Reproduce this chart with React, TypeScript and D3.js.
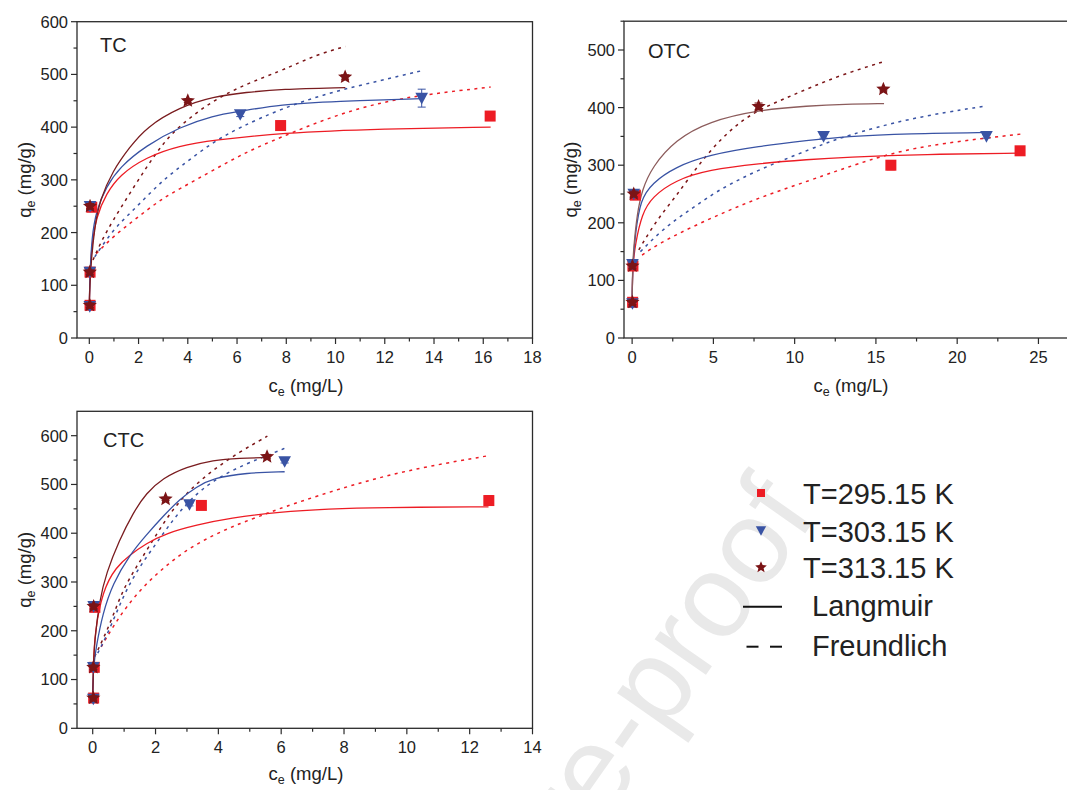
import React from 'react'
import * as d3 from 'd3'

type Pt = [number, number]
type Obs = [number, number, number] // c, q, error

const RED = '#ed1c24'
const BLUE = '#3953a4'
const DARK = '#7b1416'

// ---------- TC ----------
const tcObs295: Obs[] = [[0.03, 62, 4], [0.03, 125, 5], [0.1, 248, 6], [7.77, 403, 8], [16.28, 421, 5]]
const tcObs303: Obs[] = [[0.02, 60, 6], [0.02, 125, 5], [0.03, 250, 8], [6.13, 424, 4], [13.5, 455, 17]]
const tcObs313: Obs[] = [[0.02, 62, 4], [0.02, 125, 4], [0.03, 250, 5], [4.0, 450, 3], [10.39, 495, 4]]
const tcLang295: Pt[] = [[0, 62], [0.03, 125], [0.1, 175], [0.28, 230], [0.69, 274], [1.23, 309], [2.3, 343], [3.67, 365], [5.02, 375], [7.74, 389], [12, 397], [16.3, 400]]
const tcLang303: Pt[] = [[0, 62], [0.03, 125], [0.1, 190], [0.28, 242], [0.69, 287], [1.23, 324], [2.3, 365], [3.67, 400], [5.02, 422], [6.14, 430], [7.74, 443], [10, 449], [13.5, 454]]
const tcLang313: Pt[] = [[0, 62], [0.02, 100], [0.08, 148], [0.22, 211], [0.42, 261], [0.96, 318], [1.64, 362], [2.32, 400], [3.67, 438], [5.03, 458], [6.38, 466], [7.74, 472], [10.4, 475]]
const tcFreu295: Pt[] = [[0.28, 160], [0.96, 192], [1.64, 217], [2.32, 242], [2.99, 265], [3.67, 283], [5.02, 318], [6.38, 353], [7.74, 380], [9.77, 419], [11.8, 447], [13.8, 463], [16.3, 476]]
const tcFreu303: Pt[] = [[0.22, 154], [0.96, 205], [1.64, 236], [2.32, 268], [2.99, 299], [3.67, 324], [5.02, 372], [6.14, 400], [7.74, 434], [9.77, 466], [11.8, 488], [13.5, 507]]
const tcFreu313: Pt[] = [[0.15, 148], [0.5, 185], [0.96, 223], [1.64, 274], [2.32, 324], [2.99, 369], [3.67, 403], [5.02, 451], [6.38, 482], [7.74, 506], [8.55, 523], [9.36, 539], [10.4, 553]]

// ---------- OTC ----------
const otcObs295: Obs[] = [[0.03, 62, 4], [0.05, 125, 5], [0.2, 248, 5], [15.92, 300, 8], [23.87, 325, 3]]
const otcObs303: Obs[] = [[0.02, 60, 6], [0.02, 128, 5], [0.1, 250, 6], [11.78, 350, 3], [21.8, 350, 3]]
const otcObs313: Obs[] = [[0.02, 62, 4], [0.02, 125, 4], [0.1, 250, 5], [7.78, 402, 6], [15.46, 432, 3]]
const otcLang295: Pt[] = [[0, 62], [0.03, 125], [0.2, 164], [0.61, 216], [1.23, 245], [2.66, 274], [4.71, 292], [7.78, 303], [10.85, 310], [13.1, 314], [18, 319], [23.9, 321]]
const otcLang303: Pt[] = [[0, 62], [0.03, 125], [0.2, 182], [0.51, 240], [1.23, 269], [2.66, 297], [4.71, 318], [7.78, 333], [10.85, 343], [13.1, 350], [17, 355], [22.1, 357]]
const otcLang313: Pt[] = [[0, 62], [0.03, 125], [0.1, 158], [0.31, 216], [0.61, 257], [1.23, 297], [2.66, 344], [4.71, 376], [7.78, 396], [10.85, 403], [13.1, 406], [15.5, 407]]
const otcFreu295: Pt[] = [[0.61, 144], [1.64, 164], [3.69, 193], [5.73, 219], [7.78, 243], [9.83, 263], [11.88, 283], [13.1, 295], [15.9, 321], [18.95, 338], [23.9, 354]]
const otcFreu303: Pt[] = [[0.51, 150], [1.64, 182], [2.66, 205], [3.69, 225], [4.71, 245], [5.73, 263], [7.78, 292], [9.83, 315], [11.88, 338], [13.1, 350], [16.9, 381], [21.8, 403]]
const otcFreu313: Pt[] = [[0.41, 153], [1.12, 187], [1.84, 216], [2.66, 245], [3.48, 277], [4.5, 315], [5.53, 347], [6.55, 373], [7.78, 396], [9.42, 416], [11.06, 436], [12.9, 457], [15.5, 480]]

// ---------- CTC ----------
const ctcObs295: Obs[] = [[0.03, 62, 4], [0.05, 125, 4], [0.07, 248, 5], [3.46, 457, 3], [12.61, 467, 10]]
const ctcObs303: Obs[] = [[0.02, 60, 6], [0.02, 125, 5], [0.03, 250, 6], [3.08, 459, 3], [6.11, 547, 3]]
const ctcObs313: Obs[] = [[0.02, 62, 4], [0.02, 125, 4], [0.03, 250, 5], [2.32, 470, 3], [5.55, 557, 3]]
const ctcLang295: Pt[] = [[0, 62], [0.02, 125], [0.06, 195], [0.32, 284], [0.75, 331], [1.17, 355], [1.7, 379], [2.34, 400], [3.3, 417], [4.36, 431], [5.96, 444], [7.5, 450], [9.14, 453], [12.6, 454]]
const ctcLang303: Pt[] = [[0, 62], [0.02, 125], [0.11, 167], [0.32, 236], [0.64, 297], [1.17, 355], [1.7, 396], [2.23, 434], [2.77, 470], [3.3, 495], [3.83, 513], [4.89, 524], [6.11, 526]]
const ctcLang313: Pt[] = [[0, 62], [0.02, 125], [0.06, 181], [0.22, 263], [0.43, 318], [0.85, 386], [1.28, 441], [1.7, 482], [2.23, 513], [2.98, 536], [3.83, 550], [4.68, 554], [5.55, 555]]
const ctcFreu295: Pt[] = [[0.27, 167], [0.64, 208], [1.07, 249], [1.6, 290], [2.23, 328], [2.98, 366], [3.83, 396], [4.68, 420], [5.53, 440], [5.96, 451], [7.55, 485], [9.14, 515], [10.73, 538], [12.6, 559]]
const ctcFreu303: Pt[] = [[0.16, 154], [0.43, 188], [0.75, 236], [1.07, 284], [1.49, 331], [2.02, 379], [2.55, 427], [3.08, 468], [3.83, 509], [4.89, 543], [5.74, 564], [6.14, 575]]
const ctcFreu313: Pt[] = [[0.06, 147], [0.32, 181], [0.64, 229], [0.96, 284], [1.39, 331], [1.92, 386], [2.45, 441], [3.08, 489], [3.83, 530], [4.68, 567], [5.56, 599]]

// ---------- ticks ----------
const tcXTicks = [0, 2, 4, 6, 8, 10, 12, 14, 16, 18]
const tcXMinor = [1, 3, 5, 7, 9, 11, 13, 15, 17]
const tcYTicks = [0, 100, 200, 300, 400, 500, 600]
const tcYMinor = [50, 150, 250, 350, 450, 550]
const otcXTicks = [0, 5, 10, 15, 20, 25]
const otcXMinor = [2.5, 7.5, 12.5, 17.5, 22.5]
const otcYTicks = [0, 100, 200, 300, 400, 500]
const otcYMinor = [50, 150, 250, 350, 450, 550]
const ctcXTicks = [0, 2, 4, 6, 8, 10, 12, 14]
const ctcXMinor = [1, 3, 5, 7, 9, 11, 13]
const ctcYTicks = [0, 100, 200, 300, 400, 500, 600]
const ctcYMinor = [50, 150, 250, 350, 450, 550]

const legendLabels = ['T=295.15 K', 'T=303.15 K', 'T=313.15 K', 'Langmuir', 'Freundlich']

const FONT = "'Liberation Sans', Arial, Helvetica, sans-serif"

const starPath = (R: number) => {
  const r = R * 0.45
  let p = ''
  for (let i = 0; i < 10; i++) {
    const a = -Math.PI / 2 + (i * Math.PI) / 5
    const rad = i % 2 === 0 ? R : r
    p += (i === 0 ? 'M' : 'L') + (rad * Math.cos(a)).toFixed(2) + ',' + (rad * Math.sin(a)).toFixed(2)
  }
  return p + 'Z'
}
const triPath = (w: number) => `M${-w / 2},${-w * 0.42}L${w / 2},${-w * 0.42}L0,${w * 0.5}Z`

function Marker({ kind, x, y, s }: { kind: number; x: number; y: number; s: number }) {
  if (kind === 0) return <rect x={x - s / 2} y={y - s / 2} width={s} height={s} fill={RED} />
  if (kind === 1) return <path d={triPath(s * 1.15)} transform={`translate(${x},${y})`} fill={BLUE} />
  return <path d={starPath(s * 0.68)} transform={`translate(${x},${y})`} fill={DARK} />
}

interface PanelDef {
  name: string
  left: number; right: number; top: number; bottom: number
  xDom: [number, number]; yDom: [number, number]
  xTicks: number[]; xMinor: number[]; yTicks: number[]; yMinor: number[]
  nameX: number; nameY: number
  yTitleX: number; xTitleX: number; xTitleY: number
  obs: Obs[][]; lang: Pt[][]; freu: Pt[][]; langColors: string[]
}

const panels: PanelDef[] = [
  {
    name: 'TC', left: 77, right: 532.5, top: 21.7, bottom: 338,
    xDom: [-0.5, 18], yDom: [0, 600],
    xTicks: tcXTicks, xMinor: tcXMinor, yTicks: tcYTicks, yMinor: tcYMinor,
    nameX: 100, nameY: 52, yTitleX: 31, xTitleX: 306, xTitleY: 392,
    obs: [tcObs295, tcObs303, tcObs313], lang: [tcLang295, tcLang303, tcLang313],
    freu: [tcFreu295, tcFreu303, tcFreu313], langColors: [RED, BLUE, '#7a1d20'],
  },
  {
    name: 'OTC', left: 624, right: 1067.7, top: 21.2, bottom: 338,
    xDom: [-0.5, 26.8], yDom: [0, 550],
    xTicks: otcXTicks, xMinor: otcXMinor, yTicks: otcYTicks, yMinor: otcYMinor,
    nameX: 648, nameY: 58, yTitleX: 577, xTitleX: 851, xTitleY: 392,
    obs: [otcObs295, otcObs303, otcObs313], lang: [otcLang295, otcLang303, otcLang313],
    freu: [otcFreu295, otcFreu303, otcFreu313], langColors: [RED, BLUE, '#8c5c5c'],
  },
  {
    name: 'CTC', left: 77, right: 532.5, top: 411.3, bottom: 728.3,
    xDom: [-0.5, 14], yDom: [0, 650],
    xTicks: ctcXTicks, xMinor: ctcXMinor, yTicks: ctcYTicks, yMinor: ctcYMinor,
    nameX: 103, nameY: 447, yTitleX: 31, xTitleX: 306, xTitleY: 780,
    obs: [ctcObs295, ctcObs303, ctcObs313], lang: [ctcLang295, ctcLang303, ctcLang313],
    freu: [ctcFreu295, ctcFreu303, ctcFreu313], langColors: [RED, BLUE, '#7a1d20'],
  },
]

const seriesColors = [RED, BLUE, DARK]

function Panel({ p, id }: { p: PanelDef; id: number }) {
  const x = d3.scaleLinear().domain(p.xDom).range([p.left, p.right])
  const y = d3.scaleLinear().domain(p.yDom).range([p.bottom, p.top])
  const line = d3.line<Pt>().x(d => x(d[0])).y(d => y(d[1])).curve(d3.curveBasis)
  const axis = '#2b2b2b'
  const midY = (p.top + p.bottom) / 2
  return (
    <g>
      <defs>
        <clipPath id={'clip' + id}>
          <rect x={p.left} y={p.top} width={p.right - p.left} height={p.bottom - p.top} />
        </clipPath>
      </defs>
      {/* frame */}
      <rect x={p.left} y={p.top} width={p.right - p.left} height={p.bottom - p.top} fill="none" stroke={axis} strokeWidth={1.3} />
      {p.xTicks.map(t => (
        <g key={'xt' + t}>
          <line x1={x(t)} x2={x(t)} y1={p.bottom} y2={p.bottom + 6} stroke={axis} strokeWidth={1.2} />
          <text x={x(t)} y={p.bottom + 25} textAnchor="middle" fontSize={16.5} fill="#222">{t}</text>
        </g>
      ))}
      {p.xMinor.map(t => (
        <line key={'xm' + t} x1={x(t)} x2={x(t)} y1={p.bottom} y2={p.bottom + 3.5} stroke={axis} strokeWidth={1.2} />
      ))}
      {p.yTicks.map(t => (
        <g key={'yt' + t}>
          <line x1={p.left - 6} x2={p.left} y1={y(t)} y2={y(t)} stroke={axis} strokeWidth={1.2} />
          <text x={p.left - 9} y={y(t)} dy="0.36em" textAnchor="end" fontSize={16.5} fill="#222">{t}</text>
        </g>
      ))}
      {p.yMinor.map(t => (
        <line key={'ym' + t} x1={p.left - 3.5} x2={p.left} y1={y(t)} y2={y(t)} stroke={axis} strokeWidth={1.2} />
      ))}
      {/* axis titles */}
      <text x={p.xTitleX} y={p.xTitleY} textAnchor="middle" fontSize={18.5} fill="#222">
        c<tspan dy={4} fontSize={12.5}>e</tspan><tspan dy={-4}> (mg/L)</tspan>
      </text>
      <text transform={`translate(${p.yTitleX},${midY}) rotate(-90)`} textAnchor="middle" fontSize={18.5} fill="#222">
        q<tspan dy={4} fontSize={12.5}>e</tspan><tspan dy={-4}> (mg/g)</tspan>
      </text>
      <text x={p.nameX} y={p.nameY} fontSize={20} fill="#222">{p.name}</text>
      <g clipPath={`url(#clip${id})`}>
        {p.freu.map((s, i) => (
          <path key={'f' + i} d={line(s) || ''} fill="none" stroke={seriesColors[i]} strokeWidth={1.5} strokeDasharray="3,4.5" />
        ))}
        {p.lang.map((s, i) => (
          <path key={'l' + i} d={line(s) || ''} fill="none" stroke={p.langColors[i]} strokeWidth={1.3} />
        ))}
        {p.obs.map((s, i) => (
          <g key={'o' + i}>
            {s.map((d, j) => (
              <g key={j}>
                <line x1={x(d[0])} x2={x(d[0])} y1={y(d[1] - d[2])} y2={y(d[1] + d[2])} stroke={seriesColors[i]} strokeWidth={1} />
                <line x1={x(d[0]) - 4} x2={x(d[0]) + 4} y1={y(d[1] - d[2])} y2={y(d[1] - d[2])} stroke={seriesColors[i]} strokeWidth={1} />
                <line x1={x(d[0]) - 4} x2={x(d[0]) + 4} y1={y(d[1] + d[2])} y2={y(d[1] + d[2])} stroke={seriesColors[i]} strokeWidth={1} />
                <Marker kind={i} x={x(d[0])} y={y(d[1])} s={11} />
              </g>
            ))}
          </g>
        ))}
      </g>
    </g>
  )
}

export default function App() {
  const lx = 761
  const rows = [493, 530.5, 567.3, 606.7, 646.7]
  return (
    <svg width={1067} height={790} style={{ position: 'absolute', left: 0, top: 0, background: '#fff' }} fontFamily={FONT}>
      <rect width={1067} height={790} fill="#fff" />
      {/* watermark */}
      <text transform="translate(818,515) rotate(-55)" textAnchor="end" fontSize={118} fill="#e9e9e9">Journal Pre-proof</text>
      {panels.map((p, i) => <Panel key={p.name} p={p} id={i} />)}
      {/* legend */}
      <g>
        <Marker kind={0} x={lx} y={rows[0]} s={8} />
        <Marker kind={1} x={lx} y={rows[1]} s={9} />
        <Marker kind={2} x={lx} y={rows[2]} s={9} />
        <line x1={743} x2={782} y1={rows[3]} y2={rows[3]} stroke="#111" strokeWidth={2} />
        <line x1={746.5} x2={758.5} y1={rows[4]} y2={rows[4]} stroke="#111" strokeWidth={2} />
        <line x1={770} x2={782} y1={rows[4]} y2={rows[4]} stroke="#111" strokeWidth={2} />
        {legendLabels.map((t, i) => (
          <text key={t} x={i < 3 ? 803 : 812} y={rows[i] + (i < 3 ? 11 : 9)} fontSize={29} fill="#222">{t}</text>
        ))}
      </g>
    </svg>
  )
}
